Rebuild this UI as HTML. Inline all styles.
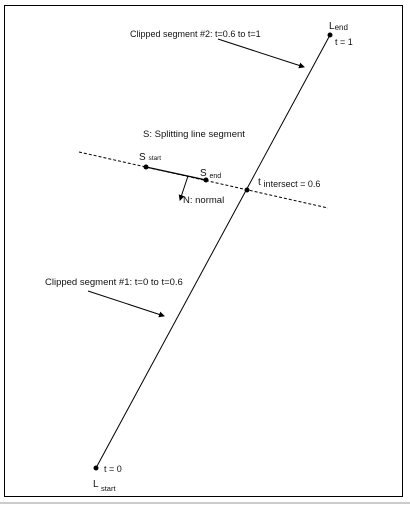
<!DOCTYPE html>
<html><head><meta charset="utf-8"><style>
html,body{margin:0;padding:0;background:#fff;width:410px;height:507px;overflow:hidden}
svg text{font-family:"Liberation Sans",sans-serif;fill:#111}
</style></head><body>
<svg width="410" height="507" viewBox="0 0 410 507">
<defs><marker id="ah" markerWidth="6" markerHeight="6" refX="5" refY="3" orient="auto" markerUnits="userSpaceOnUse"><path d="M0,0 L6,3 L0,6 z" fill="#000"/></marker></defs>
<rect x="4.5" y="5.5" width="398" height="491" fill="none" stroke="#000" stroke-width="1"/>
<line x1="0" y1="503" x2="410" y2="503" stroke="#999" stroke-width="1"/>
<line x1="96" y1="468" x2="330" y2="35" stroke="#000" stroke-width="1"/>
<line x1="79" y1="152" x2="328" y2="208" stroke="#000" stroke-width="1" stroke-dasharray="3,2"/>
<line x1="146" y1="167" x2="206" y2="180" stroke="#000" stroke-width="1.3"/>
<line x1="188" y1="176" x2="180" y2="200" stroke="#000" stroke-width="1" marker-end="url(#ah)"/>
<line x1="218" y1="39" x2="304" y2="67" stroke="#000" stroke-width="1" marker-end="url(#ah)"/>
<line x1="88" y1="291" x2="164" y2="316" stroke="#000" stroke-width="1" marker-end="url(#ah)"/>
<circle cx="330" cy="35" r="2.5" fill="#000"/>
<circle cx="96" cy="468" r="2.5" fill="#000"/>
<circle cx="146" cy="167" r="2.5" fill="#000"/>
<circle cx="206" cy="180" r="2.5" fill="#000"/>
<circle cx="247" cy="190" r="2.5" fill="#000"/>
<text x="130" y="37" font-size="9">Clipped segment #2: t=0.6 to t=1</text>
<text x="329" y="29" font-size="10">L<tspan font-size="8" dy="1">end</tspan></text>
<text x="335" y="45" font-size="9">t = 1</text>
<text x="143" y="137" font-size="9.5">S: Splitting line segment</text>
<text x="139" y="160" font-size="10">S <tspan font-size="6.5">start</tspan></text>
<text x="200" y="176" font-size="10">S <tspan font-size="7" dy="2">end</tspan></text>
<text x="258" y="185" font-size="10">t <tspan font-size="9" dy="2">intersect = 0.6</tspan></text>
<text x="183" y="203" font-size="9.5">N: normal</text>
<text x="45" y="285" font-size="9.5">Clipped segment #1: t=0 to t=0.6</text>
<text x="104" y="472" font-size="9">t = 0</text>
<text x="93" y="487" font-size="10">L <tspan font-size="7.5" dy="4">start</tspan></text>
</svg>
</body></html>
